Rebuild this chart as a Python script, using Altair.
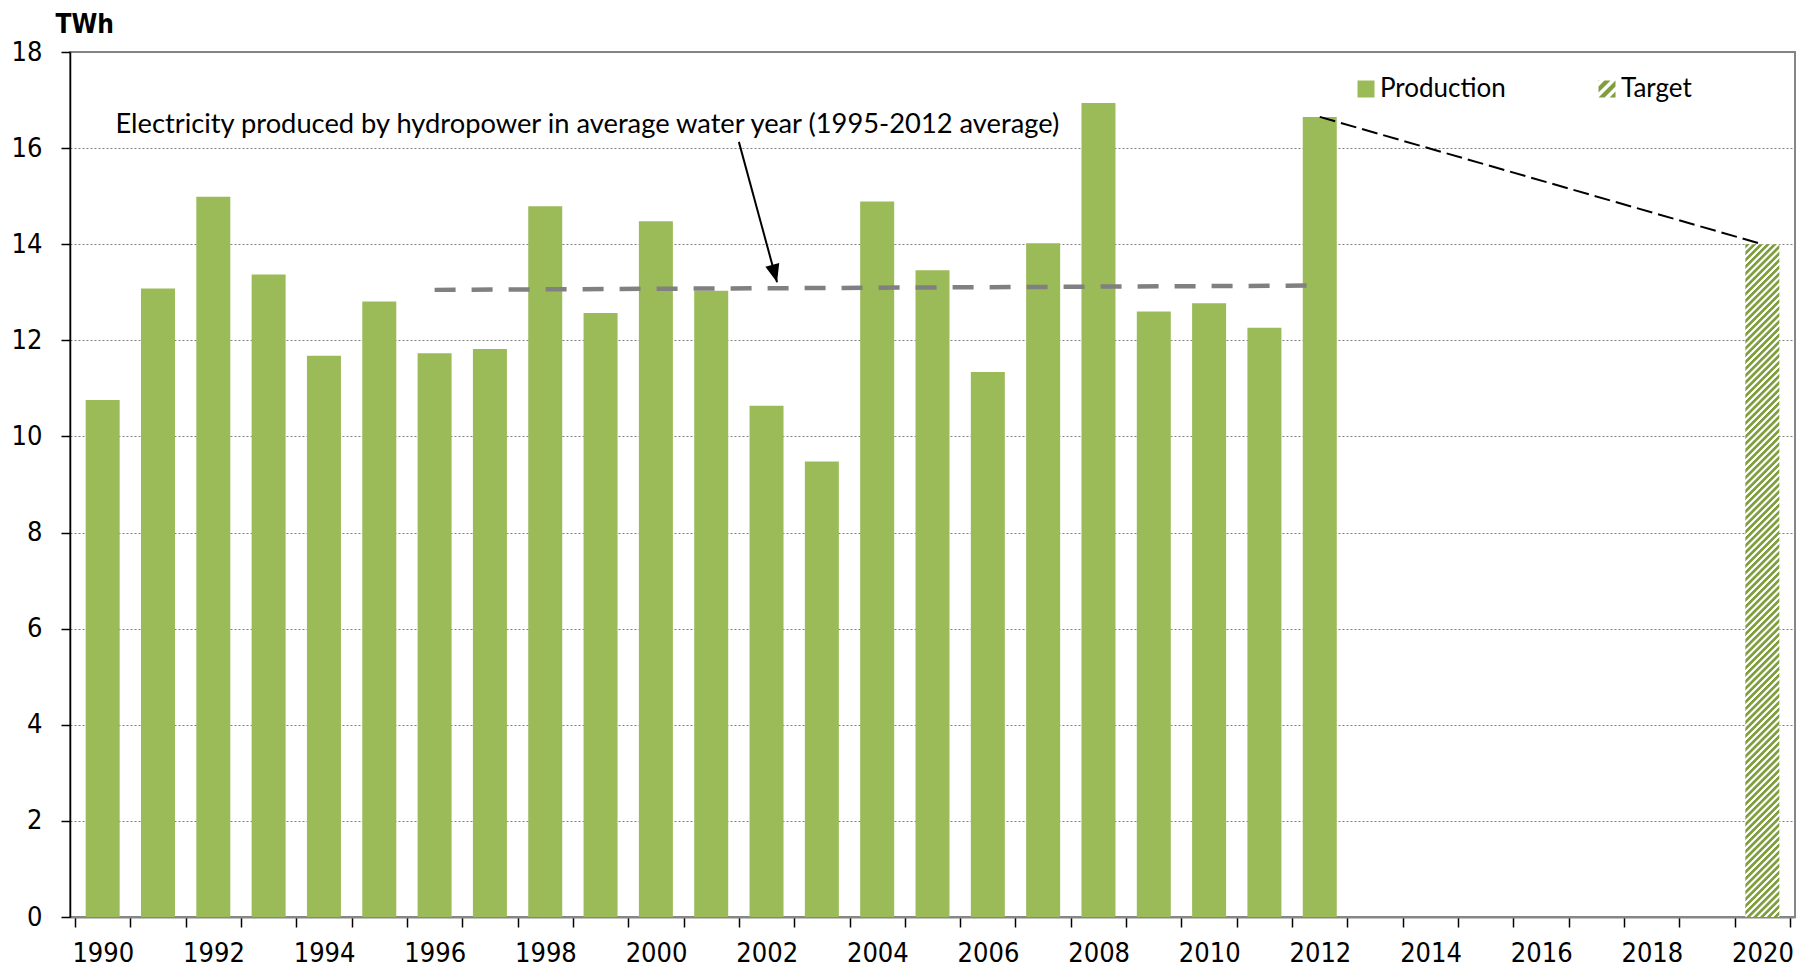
import altair as alt
import pandas as pd
import math

# ---------------- data ----------------
years = list(range(1990, 2013))
production = [10.76, 13.08, 14.99, 13.37, 11.68, 12.81, 11.73, 11.82, 14.79, 12.57,
              14.48, 13.03, 10.64, 9.48, 14.89, 13.46, 11.34, 14.02, 16.94, 12.60,
              12.77, 12.26, 16.65]
target_years = [2020]
target_values = [14.0]
avg_years = [1996, 2012]
avg_values = [13.05, 13.14]
series_names = ["Production", "Target"]
series_colors = ["#9bbb59", "#7f9f3e"]
annotation_text = "Electricity produced by hydropower in average water year (1995-2012 average)"
annotation_pos = [1990.23, 16.31]
arrow_years = [2001.5, 2002.19]
arrow_values = [16.13, 13.21]
y_ticks = list(range(0, 19, 2))
x_first, x_last = 1990, 2020

# ---------------- layout / style ----------------
W, H = 1725, 865
YMAX = 18
BAR = 34
STEP = W / (x_last - x_first + 1)
TICK_FONT = "DejaVu Sans Condensed, DejaVu Sans"
TEXT_FONT = "Lato"

x_scale = alt.Scale(domain=[x_first - 0.5, x_last + 0.5], nice=False, zero=False)
y_scale = alt.Scale(domain=[0, YMAX], nice=False)

# hatch gradient for the target bar (stripes "/" at 45 degrees)
bar_h = target_values[0] / YMAX * H
span = BAR + bar_h
den = BAR ** 2 + bar_h ** 2
gx2 = span * BAR / den
gy2 = span * bar_h / den
period = 6.8
stops = []
k = 0
while k * period < span:
    base = k * period
    for frac, col in [(0.0, "#ffffff"), (0.15, "#7f9f3e"), (0.55, "#7f9f3e"), (0.72, "#ffffff")]:
        off = min(1.0, (base + frac * period) / span)
        stops.append(alt.GradientStop(offset=off, color=col))
    k += 1
hatch = alt.LinearGradient(gradient="linear", stops=stops, x1=0, y1=0, x2=gx2, y2=gy2)


# hatched square symbol for the legend
def clip(poly, f):
    out = []
    n = len(poly)
    for i in range(n):
        p, q = poly[i], poly[(i + 1) % n]
        fp, fq = f(p), f(q)
        if fp >= 0:
            out.append(p)
        if (fp >= 0) != (fq >= 0):
            t = fp / (fp - fq)
            out.append((p[0] + t * (q[0] - p[0]), p[1] + t * (q[1] - p[1])))
    return out


square = [(-1, -1), (1, -1), (1, 1), (-1, 1)]
P, G = 1.3, 0.72
hatch_path = ""
c = -2.6
while c < 2:
    a, b = c, c + G
    poly = clip(square, lambda p, a=a: p[0] + p[1] - a)
    poly = clip(poly, lambda p, b=b: b - p[0] - p[1])
    if len(poly) >= 3:
        hatch_path += "M" + " L".join(f"{x:.3f},{y:.3f}" for x, y in poly) + " Z "
    c += P
hatch_path = hatch_path.strip()

# ---------------- data frames ----------------
prod_df = pd.DataFrame({"year": years, "value": production, "series": "Production"})
target_df = pd.DataFrame({"year": target_years, "value": target_values})
avg_df = pd.DataFrame({"year": avg_years, "value": avg_values})
trend_df = pd.DataFrame({"year": [years[-1], target_years[0]],
                         "value": [production[-1], target_values[0]]})
arrow_df = pd.DataFrame({"year": arrow_years, "value": arrow_values})
tip_df = pd.DataFrame({"year": [arrow_years[-1]], "value": [arrow_values[-1]]})
text_df = pd.DataFrame({"year": [annotation_pos[0]], "value": [annotation_pos[1]],
                        "label": [annotation_text]})
legend_df = pd.DataFrame({"series": pd.Series([], dtype=str)})

x_axis = alt.Axis(
    values=[y - 0.5 for y in range(x_first, x_last + 2)],
    labelExpr="(datum.value + 0.5) % 2 == 0 ? format(datum.value + 0.5, 'd') : ''",
    labelOffset=STEP / 2, tickSize=10, tickColor="black", tickWidth=1.5,
    domainColor="#868686", domainWidth=2, grid=False,
    labelFont=TICK_FONT, labelFontSize=27, labelColor="black",
    labelPadding=26, labelBaseline="middle", labelOverlap=False,
    labelFlush=False, labelBound=False, title=None)

y_axis = alt.Axis(
    values=y_ticks, tickSize=9, tickColor="black", tickWidth=1.5,
    domainColor="black", domainWidth=1.5,
    grid=True, gridColor="#7f7f7f", gridDash=[2, 2], gridWidth=1,
    labelFont=TICK_FONT, labelFontSize=27, labelColor="black", labelPadding=19,
    title="TWh", titleAngle=0, titleAlign="left", titleBaseline="alphabetic",
    titleX=-15, titleY=-19.5, titleFont=TICK_FONT, titleFontSize=26,
    titleFontWeight="bold", titleColor="black")

color_scale = alt.Scale(domain=series_names, range=series_colors)
shape_scale = alt.Scale(domain=series_names, range=["square", hatch_path])
legend = alt.Legend(
    title=None, orient="none", legendX=1283, legendY=24, direction="horizontal",
    symbolSize=289, symbolStrokeWidth=0, symbolOpacity=1,
    labelFont=TEXT_FONT, labelFontSize=26, labelColor="black", labelOffset=1,
    columnPadding=88, padding=0)

bars = alt.Chart(prod_df).mark_bar(size=BAR).encode(
    x=alt.X("year:Q", scale=x_scale, axis=x_axis),
    y=alt.Y("value:Q", scale=y_scale, axis=y_axis),
    color=alt.Color("series:N", scale=color_scale, legend=legend),
)

target = alt.Chart(target_df).mark_bar(size=BAR, fill=hatch, strokeWidth=0).encode(
    x=alt.X("year:Q", scale=x_scale),
    y=alt.Y("value:Q", scale=y_scale),
)

legend_layer = alt.Chart(legend_df).mark_point(filled=True, opacity=1).encode(
    color=alt.Color("series:N", scale=color_scale, legend=legend),
    shape=alt.Shape("series:N", scale=shape_scale, legend=legend),
)

avg_line = alt.Chart(avg_df).mark_line(color="#808080", strokeWidth=4.5,
                                       strokeDash=[21, 16]).encode(
    x=alt.X("year:Q", scale=x_scale),
    y=alt.Y("value:Q", scale=y_scale),
)

trend_line = alt.Chart(trend_df).mark_line(color="black", strokeWidth=2,
                                           strokeDash=[16, 6]).encode(
    x=alt.X("year:Q", scale=x_scale),
    y=alt.Y("value:Q", scale=y_scale),
)

arrow_line = alt.Chart(arrow_df).mark_line(color="black", strokeWidth=2).encode(
    x=alt.X("year:Q", scale=x_scale),
    y=alt.Y("value:Q", scale=y_scale),
)

# arrow head direction from the arrow's screen slope
dx = (arrow_years[1] - arrow_years[0]) * STEP
dy = (arrow_values[0] - arrow_values[1]) * H / YMAX
head_angle = 360 - math.degrees(math.atan2(dx, dy))
arrow_head = alt.Chart(tip_df).mark_point(
    shape="M0,0 L-0.8,-2 L0.8,-2 Z", filled=True, color="black", opacity=1,
    size=324, angle=head_angle, strokeWidth=0).encode(
    x=alt.X("year:Q", scale=x_scale),
    y=alt.Y("value:Q", scale=y_scale),
)

label = alt.Chart(text_df).mark_text(align="left", baseline="alphabetic",
                                     font=TEXT_FONT, fontSize=27.3, color="black").encode(
    x=alt.X("year:Q", scale=x_scale),
    y=alt.Y("value:Q", scale=y_scale),
    text="label:N",
)

chart = alt.layer(bars, target, legend_layer, avg_line, trend_line, arrow_line,
                  arrow_head, label).properties(
    width=W, height=H,
    autosize=alt.AutoSizeParams(type="none"),
    padding={"left": 62, "top": 44, "right": 14, "bottom": 52},
).configure_view(stroke="#868686", strokeWidth=2)

chart.save("out.html", embed_options={"renderer": "svg", "actions": False})
